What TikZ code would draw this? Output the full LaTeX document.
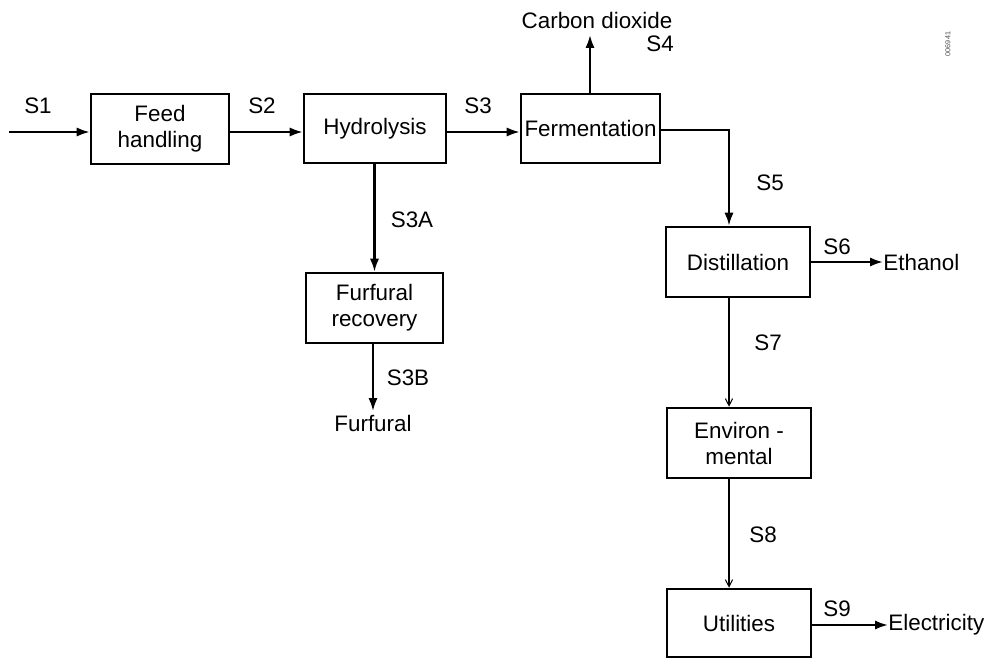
\documentclass[tikz,border=0pt]{standalone}
\usepackage{fontspec}
\setmainfont{Liberation Sans}
\usetikzlibrary{arrows.meta}
\begin{document}
\begin{tikzpicture}[x=0.5pt,y=-0.5pt,
  every node/.style={font=\fontsize{11.2}{13}\selectfont},
  box/.style={draw,line width=1.3pt,align=center,inner sep=0pt},
  lbl/.style={inner sep=0pt},
  flow/.style={line width=1.1pt,-{Latex[length=6.5pt,width=4.6pt]}},
  faint/.style={line width=1.1pt,-{Straight Barb[length=3.5pt,width=3.6pt,line width=0.5pt]}}]
\useasboundingbox (0,0) rectangle (988,658);
% boxes
\node[box,minimum width=69pt,minimum height=35pt] (feed) at (160,129) {Feed\\handling};
\node[box,minimum width=71pt,minimum height=34.5pt] (hydro) at (375,128.5) {Hydrolysis};
\node[box,minimum width=69.5pt,minimum height=34.5pt] (ferm) at (590.5,128.5) {Fermentation};
\node[box,minimum width=68.5pt,minimum height=35pt] (furf) at (374.5,308) {Furfural\\recovery};
\node[box,minimum width=72pt,minimum height=35pt] (dist) at (738,262) {Distillation};
\node[box,minimum width=72pt,minimum height=35pt] (env) at (739,443) {Environ -\\mental};
\node[box,minimum width=72pt,minimum height=34pt] (util) at (739,623) {Utilities};
% end texts
\node[lbl] (co2) at (597,20) {Carbon dioxide};
\node[lbl,anchor=west] (eth) at (883,262) {Ethanol};
\node[lbl,anchor=west] (elec) at (888,625) {Electricity};
\node[lbl] (fur) at (373,423) {Furfural};
\coordinate (s1start) at (9,132);
\coordinate (co2tip) at (590,35);
\coordinate (furtip) at (373,411);
\coordinate (col) at (729,0);
% connectors
\draw[flow] (s1start) -- (s1start -| feed.west);
\draw[flow] (feed.east |- 0,132) -- (hydro.west |- 0,132);
\draw[flow] (hydro.east |- 0,132) -- (ferm.west |- 0,132);
\draw[flow] (ferm.north -| co2tip) -- (co2tip);
\draw[flow] (ferm.east |- 0,130) -| (dist.north -| col);
\draw[flow] (hydro.south -| furf.north) -- (furf.north);
\draw[flow] (furf.south -| furtip) -- (furtip);
\draw[flow] (dist.east) -- (eth.west);
\draw[faint] (dist.south -| col) -- (env.north -| col);
\draw[faint] (env.south -| col) -- (util.north -| col);
\draw[flow] (util.east |- elec.west) -- (elec.west);
% stream labels
\node[lbl] (l1) at (38,106) {S1};
\node[lbl] (l2) at (262,106) {S2};
\node[lbl] (l3) at (478,106) {S3};
\node[lbl] (l4) at (660,44) {S4};
\node[lbl] (l5) at (770,183) {S5};
\node[lbl] (l3a) at (412,220) {S3A};
\node[lbl] (l3b) at (408,378) {S3B};
\node[lbl] (l6) at (837,247) {S6};
\node[lbl] (l7) at (768,343) {S7};
\node[lbl] (l8) at (763,535) {S8};
\node[lbl] (l9) at (837,609) {S9};
\node[lbl,rotate=90,text=black!70,font=\fontsize{3.6}{4}\selectfont] (id) at (948,44) {006941};
\end{tikzpicture}
\end{document}
